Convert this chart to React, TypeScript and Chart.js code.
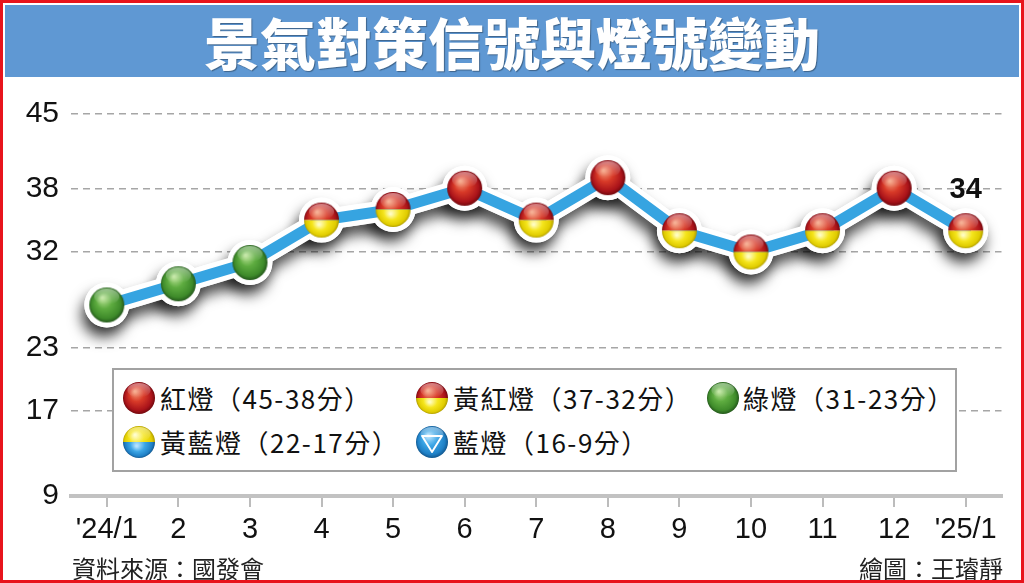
import React, { useEffect, useRef } from "react";
import { Chart, registerables } from "chart.js";

Chart.register(...registerables);

// ---------- data ----------
const months = ["'24/1", "2", "3", "4", "5", "6", "7", "8", "9", "10", "11", "12", "'25/1"];
const scores = [27, 29, 31, 35, 36, 38, 35, 39, 34, 32, 34, 38, 34];
const yTicks = [45, 38, 32, 23, 17, 9];
const bandMins = [38, 32, 23, 17, 9];
const bandKinds = ["red", "yellowred", "green", "yellowblue", "blue"];
const legendLabels = [
  "紅燈（45-38分）",
  "黃紅燈（37-32分）",
  "綠燈（31-23分）",
  "黃藍燈（22-17分）",
  "藍燈（16-9分）",
];
const titleText = "景氣對策信號與燈號變動";
const sourceText = "資料來源：國發會";
const creditText = "繪圖：王璿靜";

// ---------- drawing helpers ----------
const PAL: Record<string, string[]> = {
  red: ["#f49a78", "#d83a28", "#a9131a", "#6e070c"],
  yellow: ["#fffcc0", "#f5e51c", "#e0cc00", "#a99600"],
  green: ["#b8e294", "#5eac40", "#3e8a2a", "#22541a"],
  blue: ["#b4e2ff", "#3ca6e6", "#1f80c6", "#11548a"],
};

function fillSphere(ctx: CanvasRenderingContext2D, cx: number, cy: number, r: number, pal: string[], hx: number, hy: number) {
  const g = ctx.createRadialGradient(cx + hx * r, cy + hy * r, r * 0.05, cx, cy, r * 1.02);
  g.addColorStop(0, pal[0]);
  g.addColorStop(0.42, pal[1]);
  g.addColorStop(0.82, pal[2]);
  g.addColorStop(1, pal[3]);
  ctx.fillStyle = g;
  ctx.beginPath();
  ctx.arc(cx, cy, r, 0, Math.PI * 2);
  ctx.fill();
}

function drawBall(ctx: CanvasRenderingContext2D, cx: number, cy: number, r: number, kind: string) {
  ctx.save();
  const halves: Record<string, string[]> = { yellowred: ["red", "yellow"], yellowblue: ["yellow", "blue"] };
  if (halves[kind]) {
    const [top, bot] = halves[kind];
    ctx.save();
    ctx.beginPath();
    ctx.rect(cx - r - 1, cy - r - 1, 2 * r + 2, r + 1);
    ctx.clip();
    fillSphere(ctx, cx, cy, r, PAL[top], -0.25, -0.45);
    ctx.restore();
    ctx.save();
    ctx.beginPath();
    ctx.rect(cx - r - 1, cy, 2 * r + 2, r + 1);
    ctx.clip();
    fillSphere(ctx, cx, cy, r, PAL[bot], -0.15, 0.25);
    ctx.restore();
  } else {
    fillSphere(ctx, cx, cy, r, PAL[kind], -0.25, -0.4);
  }
  // gloss
  const h = ctx.createLinearGradient(0, cy - r, 0, cy - r * 0.05);
  h.addColorStop(0, "rgba(255,255,255,0.5)");
  h.addColorStop(1, "rgba(255,255,255,0)");
  ctx.fillStyle = h;
  ctx.beginPath();
  ctx.ellipse(cx, cy - r * 0.48, r * 0.72, r * 0.46, 0, 0, Math.PI * 2);
  ctx.fill();
  if (kind === "blue") {
    ctx.strokeStyle = "#ffffff";
    ctx.lineWidth = Math.max(1.5, r * 0.12);
    ctx.lineJoin = "round";
    ctx.beginPath();
    ctx.moveTo(cx - r * 0.62, cy - r * 0.38);
    ctx.lineTo(cx + r * 0.62, cy - r * 0.38);
    ctx.lineTo(cx, cy + r * 0.62);
    ctx.closePath();
    ctx.stroke();
  }
  ctx.restore();
}

function kindFor(v: number): string {
  for (let i = 0; i < bandMins.length; i++) if (v >= bandMins[i]) return bandKinds[i];
  return bandKinds[bandKinds.length - 1];
}

function makeBallImage(kind: string, r: number): HTMLCanvasElement {
  const c = document.createElement("canvas");
  const s = Math.ceil(2 * r + 4);
  c.width = s;
  c.height = s;
  const ctx = c.getContext("2d")!;
  drawBall(ctx, s / 2, s / 2, r, kind);
  return c;
}

const NUM_FONT = '"Liberation Sans", Arial, Helvetica, sans-serif';
const CJK_FONT = '"Noto Sans CJK TC", "Noto Sans CJK SC", sans-serif';

const shadowPlugin = {
  id: "haloShadow",
  beforeDatasetDraw(chart: any, args: any) {
    if (chart.data.datasets[args.index].label === "shadow") {
      const c = chart.ctx;
      c.save();
      c.shadowColor = "rgba(0,0,0,0.7)";
      c.shadowBlur = 14;
      c.shadowOffsetX = -3;
      c.shadowOffsetY = 10;
    }
  },
  afterDatasetDraw(chart: any, args: any) {
    if (chart.data.datasets[args.index].label === "shadow") chart.ctx.restore();
  },
};

const lastLabelPlugin = {
  id: "lastLabel",
  afterDatasetsDraw(chart: any) {
    const meta = chart.getDatasetMeta(0);
    const i = scores.length - 1;
    const pt = meta.data[i];
    if (!pt) return;
    const c = chart.ctx;
    c.save();
    c.font = `bold 29px ${NUM_FONT}`;
    c.fillStyle = "#111";
    c.textAlign = "center";
    c.textBaseline = "middle";
    c.fillText(String(scores[i]), pt.x, pt.y - 41);
    c.restore();
  },
};

function LegendBall({ kind, cx, cy }: { kind: string; cx: number; cy: number }) {
  const ref = useRef<HTMLCanvasElement>(null);
  useEffect(() => {
    const c = ref.current;
    if (!c) return;
    const ctx = c.getContext("2d")!;
    ctx.clearRect(0, 0, c.width, c.height);
    drawBall(ctx, 18, 18, 16, kind);
  }, [kind]);
  return <canvas ref={ref} width={36} height={36} style={{ position: "absolute", left: cx - 18, top: cy - 18 }} />;
}

const legendPos = [
  { ball: [139, 398], text: 160 },
  { ball: [432, 398], text: 453 },
  { ball: [723, 398], text: 743 },
  { ball: [139, 442], text: 160 },
  { ball: [432, 442], text: 453 },
];

export default function App() {
  const canvasRef = useRef<HTMLCanvasElement>(null);

  useEffect(() => {
    const canvas = canvasRef.current;
    if (!canvas) return;
    const images: Record<string, HTMLCanvasElement> = {};
    bandKinds.forEach((k) => (images[k] = makeBallImage(k, 17.5)));

    const chart = new Chart(canvas, {
      type: "line",
      data: {
        labels: months,
        datasets: [
          {
            label: "balls",
            data: scores,
            showLine: false,
            order: 0,
            pointStyle: (ctx: any) => images[kindFor(ctx.raw as number)],
            pointRadius: 18,
            pointHoverRadius: 18,
          } as any,
          {
            label: "line",
            data: scores,
            order: 1,
            borderColor: "#36a4e1",
            borderWidth: 11,
            borderJoinStyle: "round",
            borderCapStyle: "round",
            pointRadius: 0,
            pointHoverRadius: 0,
          },
          {
            label: "halo",
            data: scores,
            order: 2,
            borderColor: "#ffffff",
            borderWidth: 21,
            borderJoinStyle: "round",
            borderCapStyle: "round",
            pointRadius: 22.5,
            pointHoverRadius: 22.5,
            pointBorderWidth: 0,
            pointBackgroundColor: "#ffffff",
          },
          {
            label: "shadow",
            data: scores,
            order: 3,
            borderColor: "#ffffff",
            borderWidth: 21,
            borderJoinStyle: "round",
            borderCapStyle: "round",
            pointRadius: 22.5,
            pointHoverRadius: 22.5,
            pointBorderWidth: 0,
            pointBackgroundColor: "#ffffff",
          },
        ],
      },
      options: {
        responsive: true,
        maintainAspectRatio: false,
        animation: false,
        events: [],
        clip: false as any,
        layout: { padding: { top: 114, right: 22, bottom: 0, left: 0 } },
        plugins: {
          legend: { display: false },
          tooltip: { enabled: false },
          title: { display: false },
        },
        scales: {
          x: {
            type: "category",
            offset: true,
            grid: {
              drawOnChartArea: false,
              drawTicks: true,
              tickLength: 11,
              color: "#bcbcbc",
              lineWidth: 2,
              offset: false,
            },
            border: { display: true, color: "#c2c2c2", width: 4 },
            ticks: {
              color: "#111",
              font: { family: NUM_FONT, size: 29 },
              padding: 6,
              maxRotation: 0,
              autoSkip: false,
            },
            afterFit: (s: any) => {
              s.height = 87;
            },
          },
          y: {
            min: 9,
            max: 45,
            afterBuildTicks: (s: any) => {
              s.ticks = yTicks.map((v) => ({ value: v }));
            },
            grid: {
              color: (c: any) => (c.tick && c.tick.value === 9 ? "rgba(0,0,0,0)" : "#a6a6a6"),
              lineWidth: 1.5,
              drawTicks: false,
            },
            border: { display: false, dash: [7, 5] },
            ticks: {
              color: "#111",
              font: { family: NUM_FONT, size: 30 },
              padding: 12,
            },
            afterFit: (s: any) => {
              s.width = 71;
            },
          },
        },
      },
      plugins: [shadowPlugin, lastLabelPlugin],
    });
    return () => chart.destroy();
  }, []);

  return (
    <div
      style={{
        position: "absolute",
        left: 0,
        top: 0,
        width: 1024,
        height: 583,
        background: "#ffffff",
        overflow: "hidden",
        fontFamily: CJK_FONT,
      }}
    >
      <div style={{ position: "absolute", left: 0, top: 0, width: 1024, height: 583 }}>
        <canvas ref={canvasRef} />
      </div>

      {/* title bar */}
      <div
        style={{
          position: "absolute",
          left: 5,
          top: 5,
          width: 1014,
          height: 72,
          background: "#5f98d3",
          color: "#ffffff",
          fontSize: 56,
          fontWeight: 900,
          lineHeight: "72px",
          textAlign: "center",
          whiteSpace: "nowrap",
          textShadow: "1px 1px 1px rgba(0,0,0,0.35)",
        }}
      >
        {titleText}
      </div>

      {/* legend */}
      <div
        style={{
          position: "absolute",
          left: 112,
          top: 368,
          width: 845,
          height: 104,
          boxSizing: "border-box",
          border: "2px solid #a2a2a2",
          background: "#ffffff",
        }}
      />
      {legendLabels.map((lab, i) => (
        <React.Fragment key={lab}>
          <LegendBall kind={bandKinds[i]} cx={legendPos[i].ball[0]} cy={legendPos[i].ball[1]} />
          <div
            style={{
              position: "absolute",
              left: legendPos[i].text,
              top: legendPos[i].ball[1] - 20,
              height: 40,
              lineHeight: "40px",
              fontSize: 26,
              letterSpacing: "1.5px",
              color: "#111",
              whiteSpace: "nowrap",
            }}
          >
            {lab}
          </div>
        </React.Fragment>
      ))}

      {/* footer */}
      <div
        style={{
          position: "absolute",
          left: 72,
          top: 553,
          fontSize: 24,
          lineHeight: "30px",
          color: "#222",
          whiteSpace: "nowrap",
        }}
      >
        {sourceText}
      </div>
      <div
        style={{
          position: "absolute",
          right: 21,
          top: 553,
          fontSize: 24,
          lineHeight: "30px",
          color: "#222",
          whiteSpace: "nowrap",
        }}
      >
        {creditText}
      </div>

      {/* frame */}
      <div
        style={{
          position: "absolute",
          left: 0,
          top: 0,
          width: 1024,
          height: 583,
          boxSizing: "border-box",
          border: "3px solid #e8141c",
          pointerEvents: "none",
        }}
      />
    </div>
  );
}
